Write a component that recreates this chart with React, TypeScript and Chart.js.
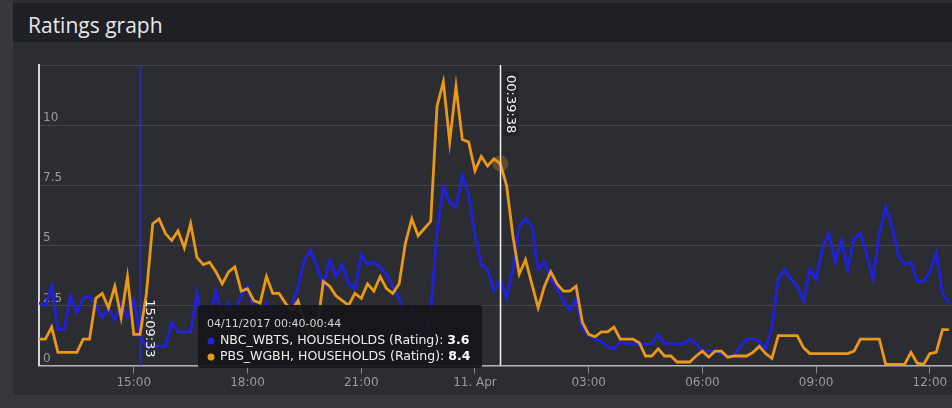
import React, { useEffect, useRef } from 'react';
import { Chart, registerables } from 'chart.js';

Chart.register(...registerables);

// Minutes since 10 Apr 2017 00:00 (10-minute samples, 12:30 -> 12:30 next day)
const TIMES = [
  750, 760, 770, 780, 790, 800, 810, 820, 830, 840, 850, 860, 870, 880, 890,
  900, 910, 920, 930, 940, 950, 960, 970, 980, 990, 1000, 1010, 1020, 1030, 1040,
  1050, 1060, 1070, 1080, 1090, 1100, 1110, 1120, 1130, 1140, 1150, 1160, 1170, 1180, 1190,
  1200, 1210, 1220, 1230, 1240, 1250, 1260, 1270, 1280, 1290, 1300, 1310, 1320, 1330, 1340,
  1350, 1360, 1370, 1380, 1390, 1400, 1410, 1420, 1430, 1440, 1450, 1460, 1470, 1480, 1490,
  1500, 1510, 1520, 1530, 1540, 1550, 1560, 1570, 1580, 1590, 1600, 1610, 1620, 1630, 1640,
  1650, 1660, 1670, 1680, 1690, 1700, 1710, 1720, 1730, 1740, 1750, 1760, 1770, 1780, 1790,
  1800, 1810, 1820, 1830, 1840, 1850, 1860, 1870, 1880, 1890, 1900, 1910, 1920, 1930, 1940,
  1950, 1960, 1970, 1980, 1990, 2000, 2010, 2020, 2030, 2040, 2050, 2060, 2070, 2080, 2090,
  2100, 2110, 2120, 2130, 2140, 2150, 2160, 2170, 2180, 2190,
];

const NBC_WBTS = [
  2.6, 2.5, 3.3, 1.5, 1.5, 2.9, 2.2, 2.8, 2.9, 2.5, 2.0, 2.4, 1.9, 2.6, 2.0,
  2.7, 1.2, 0.8, 0.8, 0.8, 0.8, 1.8, 1.4, 1.4, 1.4, 3.0, 1.5, 2.0, 3.1, 2.0,
  2.6, 2.2, 2.9, 3.3, 2.3, 2.3, 2.6, 2.3, 2.0, 2.3, 2.4, 3.3, 4.4, 4.8, 4.1,
  3.3, 4.4, 3.7, 4.2, 3.4, 3.2, 4.6, 4.2, 4.3, 4.1, 3.8, 3.3, 2.8, 1.8, 2.4,
  1.5, 1.0, 2.2, 5.6, 7.4, 6.8, 6.6, 7.9, 7.1, 5.4, 4.2, 4.0, 3.1, 3.6, 2.8,
  4.0, 5.8, 6.1, 5.8, 4.0, 4.3, 3.6, 3.2, 2.7, 2.3, 2.8, 1.5, 1.3, 1.1, 1.0,
  0.8, 0.7, 1.0, 0.9, 0.9, 0.9, 0.9, 0.9, 1.3, 0.9, 0.9, 0.9, 0.9, 1.1, 0.9,
  0.6, 0.6, 0.6, 0.5, 0.4, 0.4, 0.8, 1.1, 1.1, 1.0, 0.7, 1.6, 3.6, 4.0, 3.6,
  3.3, 2.7, 4.0, 3.6, 4.9, 5.5, 4.3, 5.2, 4.0, 5.3, 5.5, 4.6, 3.6, 5.5, 6.6,
  5.8, 4.6, 4.2, 4.3, 3.5, 3.5, 3.9, 4.7, 3.0, 2.6,
];

const PBS_WGBH = [
  1.1, 1.1, 1.6, 0.55, 0.55, 0.55, 0.55, 1.1, 1.1, 2.8, 3.0, 2.4, 3.3, 2.0, 3.7,
  1.3, 1.3, 3.0, 5.9, 6.1, 5.5, 5.2, 5.6, 4.9, 5.9, 4.5, 4.2, 4.3, 3.9, 3.4,
  3.9, 4.1, 3.1, 3.2, 2.7, 2.6, 3.7, 3.0, 3.0, 2.6, 2.3, 2.7, 1.8, 1.2, 1.5,
  3.5, 3.3, 2.9, 2.7, 2.5, 3.0, 2.8, 3.4, 3.1, 3.7, 3.2, 3.0, 3.4, 5.1, 6.1,
  5.4, 5.7, 6.0, 10.8, 11.8, 9.3, 11.6, 9.4, 9.3, 8.1, 8.7, 8.3, 8.6, 8.4, 7.5,
  5.4, 3.8, 4.4, 3.4, 2.4, 3.3, 3.9, 3.4, 3.1, 3.1, 3.3, 1.8, 1.3, 1.2, 1.4,
  1.4, 1.6, 1.1, 1.1, 1.1, 0.95, 0.4, 0.4, 0.7, 0.4, 0.4, 0.15, 0.15, 0.15, 0.4,
  0.6, 0.35, 0.6, 0.6, 0.35, 0.4, 0.4, 0.4, 0.55, 0.8, 0.5, 0.3, 1.25, 1.25, 1.25,
  1.25, 0.75, 0.5, 0.5, 0.5, 0.5, 0.5, 0.5, 0.5, 0.6, 1.1, 1.1, 1.1, 1.1, 0.05,
  0.05, 0.05, 0.05, 0.55, 0.1, 0.05, 0.5, 0.55, 1.5, 1.5,
];

const SERIES_NAMES = ['NBC_WBTS, HOUSEHOLDS (Rating)', 'PBS_WGBH, HOUSEHOLDS (Rating)'];
const SERIES_COLORS = ['#2020e0', '#ea9818'];

const X_MIN = 750;
const X_MAX = 2195;
const X_TICKS = [900, 1080, 1260, 1440, 1620, 1800, 1980, 2160];
const X_TICK_LABELS = ['15:00', '18:00', '21:00', '11. Apr', '03:00', '06:00', '09:00', '12:00'];
const Y_TICKS = [0, 2.5, 5, 7.5, 10, 12.5];
const Y_TICK_LABELS = ['0', '2.5', '5', '7.5', '10', ''];

const PLOT_LINE_TIMES = [909.55, 1479.63];
const PLOT_LINE_LABELS = ['15:09:33', '00:39:38'];

const HOVER_TIME = 1480;
const TOOLTIP_HEADER = '04/11/2017 00:40-00:44';

const TITLE = 'Ratings graph';

const FONT = '"DejaVu Sans", "Open Sans", sans-serif';

const overlayPlugin = {
  id: 'overlay',
  beforeDatasetsDraw(chart: any) {
    const { ctx, chartArea } = chart;
    const x = chart.scales.x;
    ctx.save();
    const p0 = Math.round(x.getPixelForValue(PLOT_LINE_TIMES[0])) + 0.5;
    ctx.strokeStyle = '#2e2eb0';
    ctx.lineWidth = 1.5;
    ctx.beginPath();
    ctx.moveTo(p0, chartArea.top);
    ctx.lineTo(p0, chartArea.bottom);
    ctx.stroke();
    ctx.restore();
  },
  afterDatasetsDraw(chart: any) {
    const { ctx, chartArea } = chart;
    const x = chart.scales.x;
    const y = chart.scales.y;
    ctx.save();
    const p1 = Math.round(x.getPixelForValue(PLOT_LINE_TIMES[1])) + 0.5;
    ctx.strokeStyle = '#f2f2f2';
    ctx.lineWidth = 1.5;
    ctx.beginPath();
    ctx.moveTo(p1, chartArea.top);
    ctx.lineTo(p1, chartArea.bottom);
    ctx.stroke();

    const idx = TIMES.indexOf(HOVER_TIME);
    ctx.fillStyle = 'rgba(236,152,24,0.28)';
    ctx.beginPath();
    ctx.arc(x.getPixelForValue(HOVER_TIME), y.getPixelForValue(PBS_WGBH[idx]), 8, 0, Math.PI * 2);
    ctx.fill();

    ctx.font = `13px ${FONT}`;
    ctx.textAlign = 'left';
    ctx.textBaseline = 'bottom';
    const p0 = x.getPixelForValue(PLOT_LINE_TIMES[0]);
    const w0 = ctx.measureText(PLOT_LINE_LABELS[0]).width;
    ctx.save();
    ctx.translate(p0 + 3, chartArea.bottom - 8 - w0);
    ctx.rotate(Math.PI / 2);
    ctx.fillStyle = '#f4f4f4';
    ctx.fillText(PLOT_LINE_LABELS[0], 0, 0);
    ctx.restore();
    const w1 = ctx.measureText(PLOT_LINE_LABELS[1]).width;
    ctx.save();
    ctx.translate(p1 + 3, chartArea.top + 10);
    ctx.rotate(Math.PI / 2);
    ctx.fillStyle = 'rgba(36,37,42,0.9)';
    ctx.fillRect(-3, -15, w1 + 6, 16);
    ctx.fillStyle = '#f4f4f4';
    ctx.fillText(PLOT_LINE_LABELS[1], 0, 0);
    ctx.restore();
    ctx.restore();
  },
  afterDraw(chart: any) {
    const { ctx, chartArea } = chart;
    const idx = TIMES.indexOf(HOVER_TIME);
    const values = [NBC_WBTS[idx], PBS_WGBH[idx]];
    const bx = chartArea.left + 159;
    const by = chartArea.top + 240;
    const bw = 284;
    const bh = 63;
    ctx.save();
    ctx.fillStyle = 'rgba(22,22,26,0.94)';
    ctx.beginPath();
    ctx.roundRect(bx, by, bw, bh, 3);
    ctx.fill();
    ctx.textBaseline = 'middle';
    ctx.textAlign = 'left';
    ctx.font = `11px ${FONT}`;
    ctx.fillStyle = '#d4d4d4';
    ctx.fillText(TOOLTIP_HEADER, bx + 9, by + 19);
    for (let i = 0; i < 2; i++) {
      const ry = by + 36 + i * 16;
      ctx.fillStyle = SERIES_COLORS[i];
      ctx.beginPath();
      ctx.arc(bx + 13, ry, 3.5, 0, Math.PI * 2);
      ctx.fill();
      ctx.font = `12.5px ${FONT}`;
      ctx.fillStyle = '#eeeeee';
      const label = SERIES_NAMES[i] + ': ';
      ctx.fillText(label, bx + 22, ry);
      const lw = ctx.measureText(label).width;
      ctx.font = `bold 12.5px ${FONT}`;
      ctx.fillStyle = '#ffffff';
      ctx.fillText(values[i].toFixed(1), bx + 22 + lw, ry);
    }
    ctx.restore();
  },
};

export default function App() {
  const canvasRef = useRef<HTMLCanvasElement | null>(null);

  useEffect(() => {
    const canvas = canvasRef.current;
    if (!canvas) return;
    const chart = new Chart(canvas, {
      type: 'line',
      data: {
        datasets: [
          {
            label: SERIES_NAMES[1],
            data: TIMES.map((t, i) => ({ x: t, y: PBS_WGBH[i] })),
            borderColor: SERIES_COLORS[1],
            backgroundColor: SERIES_COLORS[1],
            borderWidth: 2.8,
            pointRadius: 0,
            tension: 0,
            order: 0,
          },
          {
            label: SERIES_NAMES[0],
            data: TIMES.map((t, i) => ({ x: t, y: NBC_WBTS[i] })),
            borderColor: SERIES_COLORS[0],
            backgroundColor: SERIES_COLORS[0],
            borderWidth: 2.8,
            pointRadius: 0,
            tension: 0,
            order: 1,
          },
        ],
      },
      options: {
        animation: false,
        responsive: false,
        maintainAspectRatio: false,
        devicePixelRatio: 1,
        layout: { padding: { left: 18, top: 20, right: 0, bottom: 16 } },
        plugins: {
          legend: { display: false },
          tooltip: { enabled: false },
          title: { display: false },
        },
        events: [],
        scales: {
          x: {
            type: 'linear',
            min: X_MIN,
            max: X_MAX,
            afterBuildTicks: (scale: any) => {
              scale.ticks = X_TICKS.map((v) => ({ value: v }));
            },
            ticks: {
              autoSkip: false,
              maxRotation: 0,
              padding: 2,
              color: '#9a9ba0',
              font: { family: FONT, size: 12 },
              callback: (_v: any, i: number) => X_TICK_LABELS[i],
            },
            grid: {
              drawOnChartArea: false,
              drawTicks: true,
              tickLength: 8,
              color: '#8a8b90',
              lineWidth: 1,
            },
            border: { display: true, color: '#b4b5ba', width: 1.5 },
          },
          y: {
            type: 'linear',
            min: 0,
            max: 12.5,
            afterBuildTicks: (scale: any) => {
              scale.ticks = Y_TICKS.map((v) => ({ value: v }));
            },
            ticks: {
              mirror: true,
              padding: 4,
              labelOffset: -7,
              color: '#9a9ba0',
              font: { family: FONT, size: 12 },
              callback: (_v: any, i: number) => Y_TICK_LABELS[i],
            },
            grid: {
              drawTicks: false,
              color: 'rgba(255,255,255,0.12)',
              lineWidth: 1,
            },
            border: { display: true, color: '#d6d6d8', width: 2 },
          },
        },
      },
      plugins: [overlayPlugin],
    } as any);
    return () => chart.destroy();
  }, []);

  return (
    <div
      style={{
        position: 'fixed',
        left: 0,
        top: 0,
        width: 952,
        height: 408,
        background: '#37383d',
        overflow: 'hidden',
      }}
    >
      <div
        style={{
          position: 'absolute',
          left: 13,
          top: 0,
          width: 939,
          height: 395,
          background: '#2c2d33',
        }}
      />
      <div
        style={{
          position: 'absolute',
          left: 13,
          top: 3,
          width: 939,
          height: 39,
          background: '#1f2025',
          color: '#e8e8e8',
          fontFamily: '"Open Sans", sans-serif',
          fontSize: 21,
          lineHeight: '39px',
          paddingLeft: 15,
          boxSizing: 'border-box',
        }}
      >
        <span style={{ position: 'relative', top: 3 }}>{TITLE}</span>
      </div>
      <canvas
        ref={canvasRef}
        width={939}
        height={363}
        style={{ position: 'absolute', left: 13, top: 45, width: 939, height: 363 }}
      />
    </div>
  );
}
